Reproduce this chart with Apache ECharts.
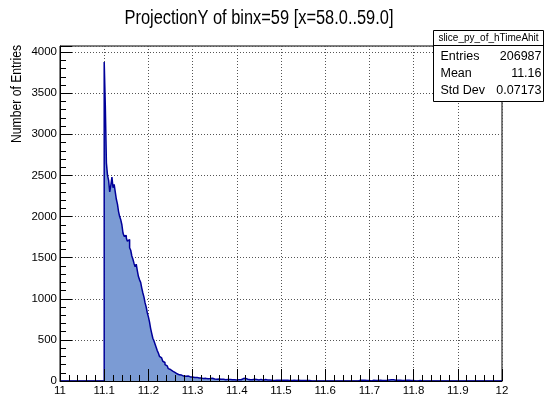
<!DOCTYPE html>
<html><head><meta charset="utf-8">
<script src="https://cdn.jsdelivr.net/npm/echarts@6/dist/echarts.min.js"></script>
<style>html,body{margin:0;padding:0;background:#fff;}#c{width:545px;height:397px;}</style>
</head><body><div id="c"></div>
<script>
const FONT = '"Liberation Sans",Arial,sans-serif';
const titleText = 'ProjectionY of binx=59 [x=58.0..59.0]';
const yTitle = 'Number of Entries';
const statsName = 'slice_py_of_hTimeAhit';
const statsLabels = ['Entries', 'Mean', 'Std Dev'];
const statsValues = ['206987', '11.16', '0.07173'];
const xMin = 11, xMax = 12, xStep = 0.1;
const yMax = 4074, yStep = 500, yMinorStep = 100;
const binWidth = 0.0025;
const seg1Start = 11.1;
const seg1Counts = [
  3880, 3350, 2650, 2500, 2440, 2300, 2380, 2480, 2350, 2390,
  2300, 2210, 2150, 2060, 2000, 1960, 1900, 1800, 1760, 1770,
  1740, 1700, 1720, 1620, 1590, 1520, 1480, 1430, 1390, 1420,
  1340, 1270, 1230, 1200, 1130, 1070, 1020, 950, 900, 830,
  780, 720, 640, 580, 520, 490, 450, 410, 370, 340,
  300, 280, 260, 240, 225, 200, 185, 170, 150, 140,
  130, 120, 115, 105, 95, 88, 80, 75, 70, 72,
  65, 60, 62, 58, 55, 60, 52, 50, 55, 48,
  45, 42, 40, 44, 38, 36, 40, 35, 33, 30,
  36, 32, 30, 28, 33, 30, 38, 34, 28, 25,
  27, 22, 20, 24, 18, 20, 17, 22, 19, 16,
  20, 18, 15, 19, 16, 14, 18, 15, 17, 13,
  16, 14, 17, 15, 20, 30, 36, 32, 28, 22,
  18, 15, 14, 16, 12, 22, 26, 18, 14, 12,
  15, 20, 14, 10, 12, 18, 10, 12, 9, 11,
  10, 8, 9, 7, 10, 8, 6, 9, 7, 8,
  6, 8, 7, 9, 6, 8, 7, 6, 8, 7,
  6, 8, 6, 7, 5, 8, 6, 7, 6, 5,
  7, 6, 5, 7, 6, 5
];
const seg2Start = 11.675;
const seg2Counts = [
  7, 8, 6, 8, 7, 9, 6, 7, 8, 6,
  7, 0, 0, 8, 6, 7, 9, 7, 6, 8,
  7, 6, 8, 7, 9, 8, 10, 12, 14, 16,
  18, 14, 10, 8, 7, 9, 6, 8, 7, 6,
  8, 7, 6, 8, 7, 9, 6, 7, 8, 6,
  0, 0, 0, 0, 7, 6
];

const nBins = Math.round((xMax - xMin) / binWidth);
const counts = new Array(nBins).fill(0);
function place(start, arr) {
  const off = Math.round((start - xMin) / binWidth);
  arr.forEach((v, k) => { counts[off + k] = v; });
}
place(seg1Start, seg1Counts);
place(seg2Start, seg2Counts);
const histData = counts.map((v, i) => [xMin + i * binWidth, v]);
histData.push([xMax, 0]);

const chart = echarts.init(document.getElementById('c'), null, { renderer: 'canvas' });
const fmtX = v => String(+v.toFixed(1));
const gridRect = { left: 60, right: 43, top: 46, bottom: 16 };
const statsX = 433, statsY = 30, statsW = 110, statsH = 71;
const LBL = 11.5;

const option = {
  animation: false,
  backgroundColor: '#fff',
  grid: Object.assign({ show: true, borderColor: '#000', borderWidth: 1, backgroundColor: 'transparent' }, gridRect),
  xAxis: [
    { type: 'value', min: xMin, max: xMax, interval: xStep, position: 'bottom', z: 0,
      axisLine: { show: false }, axisTick: { show: false }, axisLabel: { show: false },
      splitLine: { show: true, lineStyle: { color: '#555', type: [1, 2], width: 1 } } },
    { type: 'value', min: xMin, max: xMax, interval: xStep, position: 'bottom', z: 10,
      axisLine: { show: true, onZero: false, lineStyle: { color: '#000', width: 1 } },
      axisTick: { show: true, inside: true, length: 12, lineStyle: { color: '#000' } },
      minorTick: { show: true, splitNumber: 5, length: 6, lineStyle: { color: '#000' } },
      axisLabel: { show: true, formatter: fmtX, color: '#000', fontFamily: FONT, fontSize: LBL, margin: 4 },
      splitLine: { show: false } }
  ],
  yAxis: [
    { type: 'value', min: 0, max: yMax, interval: yStep, position: 'left', z: 0,
      axisLine: { show: false }, axisTick: { show: false }, axisLabel: { show: false },
      splitLine: { show: true, lineStyle: { color: '#555', type: [1, 2], width: 1 } } },
    { type: 'value', min: 0, max: yMax, interval: yStep, position: 'left', z: 10,
      axisLine: { show: true, onZero: false, lineStyle: { color: '#000', width: 1 } },
      axisTick: { show: true, inside: true, length: 12, lineStyle: { color: '#000' } },
      axisLabel: { show: true, color: '#000', fontFamily: FONT, fontSize: LBL, margin: 3,
        formatter: v => (v % yStep === 0 ? String(v) : '') },
      splitLine: { show: false } },
    { type: 'value', min: 0, max: yMax, interval: yMinorStep, position: 'left', z: 10,
      axisLine: { show: false }, axisLabel: { show: false },
      axisTick: { show: true, inside: true, length: 6, lineStyle: { color: '#000' } },
      splitLine: { show: false } }
  ],
  series: [{
    type: 'line', xAxisIndex: 0, yAxisIndex: 0, step: 'end', symbol: 'none',
    data: histData,
    lineStyle: { color: '#000099', width: 1.5 },
    areaStyle: { color: '#7b9bd4', opacity: 1 },
    z: 5
  }],
  graphic: [
    { type: 'text', x: 259, y: 18, scaleX: 0.82,
      style: { text: titleText, font: '20px ' + FONT, fill: '#000', textAlign: 'center', textVerticalAlign: 'middle' } },
    { type: 'text', x: 17, y: 94, rotation: Math.PI / 2, scaleX: 0.87,
      style: { text: yTitle, font: '14px ' + FONT, fill: '#000', textAlign: 'center', textVerticalAlign: 'middle' } },
    { type: 'rect', shape: { x: statsX + 0.5, y: statsY + 0.5, width: statsW, height: statsH }, z: 20,
      style: { fill: '#fff', stroke: '#000', lineWidth: 1 } },
    { type: 'line', shape: { x1: statsX, y1: statsY + 15.5, x2: statsX + statsW, y2: statsY + 15.5 }, z: 21,
      style: { stroke: '#000', lineWidth: 1 } },
    { type: 'text', x: statsX + statsW / 2 + 0.5, y: statsY + 8.5, z: 21,
      style: { text: statsName, font: '10px ' + FONT, fill: '#000', textAlign: 'center', textVerticalAlign: 'middle' } }
  ].concat(statsLabels.map((s, k) => ({
    type: 'text', x: statsX + 7.5, y: statsY + 26.7 + k * 16.7, z: 21,
    style: { text: s, font: '12.5px ' + FONT, fill: '#000', textAlign: 'left', textVerticalAlign: 'middle' }
  }))).concat(statsValues.map((s, k) => ({
    type: 'text', x: statsX + statsW - 1.5, y: statsY + 26.7 + k * 16.7, z: 21,
    style: { text: s, font: '12.5px ' + FONT, fill: '#000', textAlign: 'right', textVerticalAlign: 'middle' }
  })))
};
chart.setOption(option);
</script>
</body></html>
